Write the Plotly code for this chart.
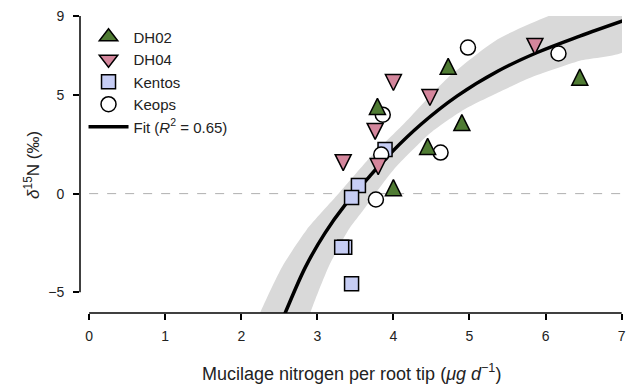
import plotly.graph_objects as go

# ---- data ----
dh02_x = [3.79, 4.72, 4.90, 4.45, 4.00, 6.45]
dh02_y = [4.42, 6.45, 3.60, 2.39, 0.30, 5.90]

dh04_x = [3.34, 4.00, 4.48, 3.76, 3.80, 5.86]
dh04_y = [1.57, 5.63, 4.87, 3.15, 1.37, 7.46]

kentos_x = [3.89, 3.54, 3.45, 3.36, 3.32, 3.45]
kentos_y = [2.23, 0.41, -0.20, -2.72, -2.72, -4.57]

keops_x = [3.86, 3.84, 3.77, 4.62, 4.98, 6.17]
keops_y = [4.00, 1.98, -0.30, 2.08, 7.40, 7.10]

fit_x = [2.50, 2.58, 2.84, 3.10, 3.36, 3.67, 3.97, 4.36, 4.84, 5.37, 5.89, 6.45, 7.05]
fit_y = [-6.75, -6.02, -3.75, -2.00, -0.60, 0.80, 2.07, 3.50, 4.95, 6.20, 7.15, 7.98, 8.80]

band_up_x = [2.10, 2.25, 2.54, 2.86, 3.28, 3.71, 4.15, 4.71, 5.37, 6.04, 7.05]
band_up_y = [-7.5, -6.02, -3.69, -1.83, 0.00, 1.90, 3.59, 5.85, 7.82, 9.00, 10.3]
band_lo_x = [7.05, 6.45, 5.80, 5.37, 4.93, 4.49, 4.00, 3.58, 3.41, 3.15, 2.91, 2.80]
band_lo_y = [7.25, 6.73, 5.87, 5.11, 4.26, 3.08, 1.20, -0.96, -1.83, -3.69, -6.02, -7.5]

x_ticks = [0, 1, 2, 3, 4, 5, 6, 7]
y_ticks = [-5, 0, 5, 9]

FONT = "Arial, Liberation Sans, sans-serif"
TXT = "#222222"

# axis geometry
Y_LO, Y_HI = -6.05, 9.0
H_PLOT = 384 - 16 - 71           # plot-area height in px
TRI_SIZE = 16                     # arrow marker size (px); apex sits on the point
shift = (TRI_SIZE / 2) * (Y_HI - Y_LO) / H_PLOT   # half marker height, in data units

fig = go.Figure()

# confidence band
fig.add_trace(go.Scatter(
    x=band_up_x + band_lo_x, y=band_up_y + band_lo_y,
    fill="toself", fillcolor="#d9d9d9", mode="lines",
    line=dict(width=0, color="#d9d9d9", shape="spline", smoothing=0.6),
    showlegend=False, hoverinfo="skip"))

# fit line
fig.add_trace(go.Scatter(
    x=fit_x, y=fit_y, mode="lines",
    line=dict(color="black", width=3.5, shape="spline", smoothing=1.0),
    name="Fit (<i>R</i><sup>2</sup> = 0.65)", legendrank=5))

mk_line = dict(color="black", width=1.5)
GREEN, PINK, BLUE = "#4f7b33", "#d4869c", "#c6cdf4"

# triangles drawn as arrow symbols (height == width) on shifted overlay axes,
# so the marker centre lands on the data value
fig.add_trace(go.Scatter(
    x=dh02_x, y=dh02_y, mode="markers", yaxis="y2", showlegend=False,
    marker=dict(symbol="arrow-up", size=TRI_SIZE, color=GREEN, line=mk_line)))
fig.add_trace(go.Scatter(
    x=dh04_x, y=dh04_y, mode="markers", yaxis="y3", showlegend=False,
    marker=dict(symbol="arrow-down", size=TRI_SIZE, color=PINK, line=mk_line)))
fig.add_trace(go.Scatter(
    x=kentos_x, y=kentos_y, mode="markers", name="Kentos", legendrank=3,
    marker=dict(symbol="square", size=14, color=BLUE, line=mk_line)))
fig.add_trace(go.Scatter(
    x=keops_x, y=keops_y, mode="markers", name="Keops", legendrank=4,
    marker=dict(symbol="circle", size=15, color="white", line=mk_line)))

# legend entries for the triangle series
fig.add_trace(go.Scatter(
    x=[None], y=[None], mode="markers", name="DH02", legendrank=1,
    marker=dict(symbol="triangle-up", size=16, color=GREEN, line=mk_line)))
fig.add_trace(go.Scatter(
    x=[None], y=[None], mode="markers", name="DH04", legendrank=2,
    marker=dict(symbol="triangle-down", size=16, color=PINK, line=mk_line)))

axis_common = dict(
    showgrid=False, zeroline=False, showline=False,
    ticks="outside", ticklen=6, tickwidth=1.5, tickcolor="black",
    tickfont=dict(family=FONT, size=14, color=TXT),
)

fig.update_layout(
    width=627, height=384,
    margin=dict(l=80, r=1, t=16, b=71),
    plot_bgcolor="white", paper_bgcolor="white",
    font=dict(family=FONT, size=14, color=TXT),
    xaxis=dict(range=[-0.12, 7.005], tickvals=x_ticks, ticklabelstandoff=4,
               ticklabeloverflow="allow", **axis_common),
    yaxis=dict(range=[Y_LO, Y_HI], tickvals=y_ticks, ticklabelstandoff=6,
               ticklabeloverflow="allow", **axis_common),
    yaxis2=dict(range=[Y_LO - shift, Y_HI - shift], overlaying="y", visible=False),
    yaxis3=dict(range=[Y_LO + shift, Y_HI + shift], overlaying="y", visible=False),
    legend=dict(x=0.0065, y=0.985, xanchor="left", yanchor="top", itemwidth=40,
                bgcolor="rgba(0,0,0,0)", font=dict(family=FONT, size=15, color=TXT),
                tracegroupgap=0),
    shapes=[
        dict(type="line", xref="x", yref="y", x0=0, x1=7, y0=0, y1=0,
             line=dict(color="#b0b0b0", width=1, dash="dash"), layer="below"),
        dict(type="line", xref="paper", yref="y", x0=0, x1=0, y0=-5, y1=9,
             line=dict(color="black", width=1.5)),
        dict(type="line", xref="x", yref="paper", x0=0, x1=7, y0=0, y1=0,
             line=dict(color="black", width=1.5)),
    ],
    annotations=[
        dict(text="Mucilage nitrogen per root tip (<i>μg d</i><sup>−1</sup>)",
             xref="paper", yref="paper", x=0.5, y=-0.199, xanchor="center", yanchor="middle",
             showarrow=False, font=dict(family=FONT, size=18, color=TXT)),
        dict(text="<i>δ</i><sup>15</sup>N (‰)", textangle=-90,
             xref="paper", yref="paper", x=-0.0897, y=0.5, xanchor="center", yanchor="middle",
             showarrow=False, font=dict(family=FONT, size=17, color=TXT)),
    ],
)

fig.write_html("out.html", config={"displayModeBar": False},
               post_script="document.body.style.margin='0';document.body.style.padding='0';")
